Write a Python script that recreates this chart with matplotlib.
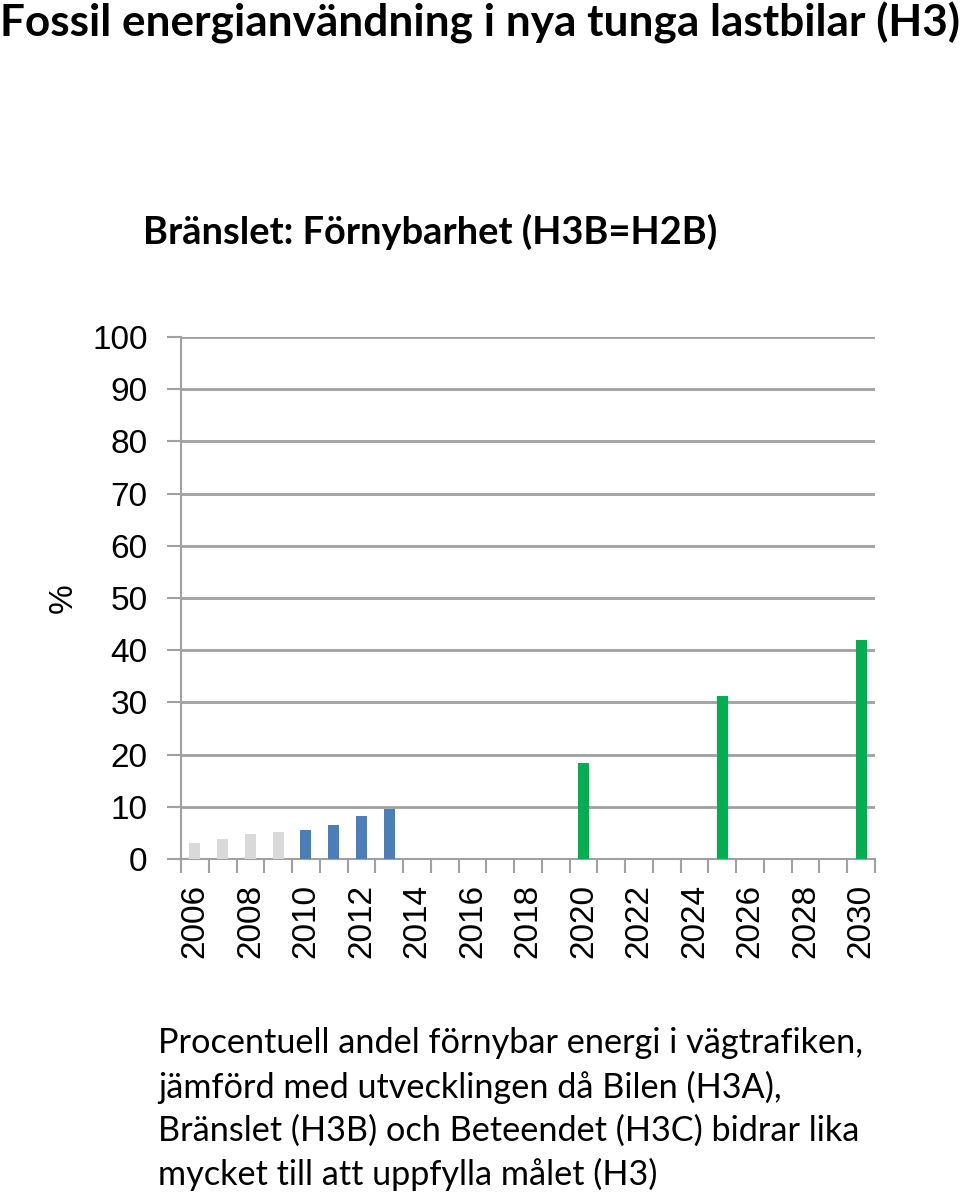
import matplotlib.pyplot as plt
import numpy as np

years = list(range(2006, 2031))
grey_years = [2006, 2007, 2008, 2009]
grey_vals = [3.0, 3.8, 4.7, 5.1]
blue_years = [2010, 2011, 2012, 2013]
blue_vals = [5.5, 6.6, 8.2, 9.5]
green_years = [2020, 2025, 2030]
green_vals = [18.3, 31.3, 41.9]

title = "Fossil energianvändning i nya tunga lastbilar (H3)"
subtitle = "Bränslet: Förnybarhet (H3B=H2B)"
caption = ("Procentuell andel förnybar energi i vägtrafiken,\n"
           "jämförd med utvecklingen då Bilen (H3A),\n"
           "Bränslet (H3B) och Beteendet (H3C) bidrar lika\n"
           "mycket till att uppfylla målet (H3)")

plt.rcParams['font.family'] = ['Liberation Sans', 'DejaVu Sans']

fig = plt.figure(figsize=(9.6, 11.99), dpi=100)
ax = fig.add_axes([181/960, 1-859/1199, (875-181)/960, (859-337)/1199])

def pos(ys):
    return [years.index(y) for y in ys]

w = 0.4
ax.bar(pos(grey_years), grey_vals, width=w, color='#d9d9d9', zorder=3)
ax.bar(pos(blue_years), blue_vals, width=w, color='#4a7ebb', zorder=3)
ax.bar(pos(green_years), green_vals, width=w, color='#00b050', zorder=3)

ax.set_xlim(-0.5, len(years) - 0.5)
ax.set_ylim(0, 100)
ax.set_yticks(np.arange(0, 101, 10))
ax.yaxis.grid(True, color='#a0a0a0', linewidth=2, zorder=0)
ax.set_axisbelow(True)

ax.set_xticks(range(0, len(years), 2))
ax.set_xticklabels([str(y) for y in years[::2]], rotation=90)
ax.set_xticks(np.arange(-0.5, len(years)), minor=True)
ax.tick_params(axis='x', which='major', length=0, pad=18, labelsize=24)
ax.tick_params(axis='x', which='minor', length=10, width=1.5, color='#a0a0a0')
ax.tick_params(axis='y', length=10, width=1.5, color='#a0a0a0', pad=14, labelsize=24)

for s in ['top', 'right']:
    ax.spines[s].set_visible(False)
for s in ['left', 'bottom']:
    ax.spines[s].set_color('#a0a0a0')
    ax.spines[s].set_linewidth(1.5)

fig.text(63/960, 1-598/1199, "%", rotation=90, fontsize=24, ha='center', va='center')

fig.text(0.5, 1-23/1199, title, ha='center', va='center', fontsize=31.8,
         fontweight='bold', family=['Lato', 'DejaVu Sans'])
fig.text(430/960, 1-232/1199, subtitle, ha='center', va='center', fontsize=27.4,
         fontweight='bold', family=['Lato', 'DejaVu Sans'])
fig.text(158/960, 1-1027/1199, caption, ha='left', va='top', fontsize=24.7,
         linespacing=1.42, family=['Lato', 'DejaVu Sans'])

fig.savefig('out.png', dpi=100)
